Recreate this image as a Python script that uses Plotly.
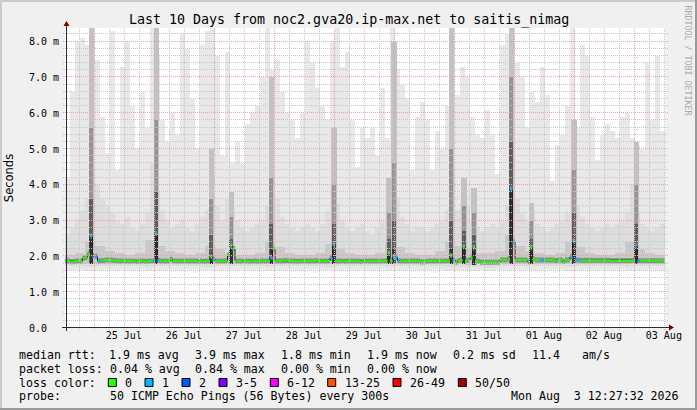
import plotly.graph_objects as go
from datetime import datetime, timedelta

# ---------------- data ----------------
T_START = datetime(2026, 7, 24, 12, 27, 32)
T_END = datetime(2026, 8, 3, 12, 27, 32)

# median rtt (ms), one value per hour, 240 hours
median_rtt = [
    1.87, 1.87, 1.85, 1.86, 1.87, 1.87, 1.87, 1.95, 1.97, 2.07, 2.57, 2.02, 2.00, 1.87, 1.88, 1.88, 1.90, 1.90, 1.90, 1.89, 1.88, 1.87, 1.87, 1.87,
    1.87, 1.87, 1.87, 1.87, 1.86, 1.87, 1.87, 1.87, 1.86, 1.87, 1.87, 1.87, 2.64, 1.89, 1.87, 1.87, 1.87, 1.87, 1.92, 1.87, 1.87, 1.87, 1.87, 1.87,
    1.87, 1.87, 1.87, 1.87, 1.87, 1.86, 1.87, 1.86, 1.87, 1.87, 2.00, 1.93, 1.87, 1.87, 1.87, 1.87, 1.88, 2.04, 2.30, 2.22, 1.87, 1.87, 1.87, 1.86,
    1.87, 1.87, 1.86, 1.87, 1.87, 1.86, 1.87, 1.87, 1.87, 1.87, 1.98, 2.20, 1.87, 1.87, 1.87, 1.88, 1.88, 1.88, 1.87, 1.87, 1.87, 1.86, 1.87, 1.87,
    1.87, 1.87, 1.87, 1.87, 1.88, 1.87, 1.87, 1.87, 1.87, 1.87, 1.96, 2.33, 1.87, 1.87, 1.87, 1.86, 1.87, 1.87, 1.87, 1.87, 1.87, 1.87, 1.86, 1.87,
    1.87, 1.87, 1.87, 1.87, 1.87, 1.87, 1.87, 1.87, 1.88, 2.09, 1.89, 2.00, 1.97, 1.88, 1.87, 1.87, 1.87, 1.87, 1.87, 1.87, 1.87, 1.87, 1.85, 1.85,
    1.86, 1.87, 1.87, 1.87, 1.87, 1.87, 1.87, 1.87, 1.87, 1.88, 2.02, 1.90, 1.84, 1.88, 1.90, 2.27, 1.88, 1.90, 1.98, 2.25, 1.87, 1.86, 1.84, 1.84,
    1.84, 1.84, 1.84, 1.84, 1.84, 1.84, 1.90, 1.90, 1.90, 1.93, 3.88, 2.41, 1.90, 1.90, 1.90, 1.90, 1.90, 1.85, 2.27, 1.93, 1.90, 1.90, 1.90, 1.90,
    1.90, 1.90, 1.90, 1.90, 1.88, 1.90, 1.90, 1.86, 1.90, 1.90, 1.99, 2.43, 1.90, 1.90, 1.89, 1.89, 1.89, 1.89, 1.89, 1.89, 1.89, 1.89, 1.89, 1.89,
    1.89, 1.89, 1.88, 1.88, 1.88, 1.88, 1.88, 1.88, 1.88, 1.88, 1.88, 1.90, 2.30, 1.88, 1.88, 1.88, 1.88, 1.88, 1.88, 1.88, 1.88, 1.88, 1.88, 1.88,
]
# hours (index into median_rtt) with 1 lost ping out of 50
loss_one_hours = [10, 11, 12, 13, 35, 36, 37, 59, 82, 106, 107, 131, 132, 133,
                  155, 178, 179, 190, 191, 202, 203, 204, 205, 228, 229]

# smoke: outer (max) envelope, one value per 2 hours (120)
smoke_max = [
    4.2, 6.6, 8.0, 8.1, 7.9, 8.4, 7.5, 5.9, 4.9, 8.3, 4.4, 7.3,
    8.0, 6.2, 5.0, 6.6, 5.6, 8.4, 7.6, 5.8, 5.2, 6.0, 5.4, 8.2,
    7.8, 6.4, 5.0, 7.9, 8.3, 8.4, 7.6, 4.8, 7.7, 4.6, 5.2, 4.6,
    5.7, 6.0, 6.2, 7.0, 8.4, 7.2, 7.5, 6.6, 6.0, 5.8, 5.3, 6.0,
    8.0, 7.4, 6.7, 6.2, 5.8, 8.0, 8.4, 7.3, 7.7, 5.8, 4.5, 5.6,
    5.3, 5.6, 4.8, 6.7, 5.3, 8.4, 7.2, 6.8, 6.4, 4.4, 5.9, 6.3,
    5.8, 4.4, 5.5, 5.0, 6.2, 8.4, 6.5, 7.3, 7.0, 5.9, 5.4, 5.3,
    6.1, 5.4, 4.3, 7.9, 8.2, 8.4, 7.4, 7.0, 5.6, 6.6, 6.3, 7.3,
    6.5, 4.1, 5.1, 5.4, 6.2, 8.4, 5.6, 7.9, 7.6, 5.9, 4.7, 5.4,
    5.7, 5.5, 5.3, 5.9, 6.0, 5.3, 5.1, 5.0, 7.4, 5.8, 7.6, 5.5,
]
# smoke: middle band top, one value per 2 hours (120)
smoke_mid = [
    2.6, 2.8, 3.0, 3.3, 3.6, 4.5, 4.0, 3.6, 3.4, 3.2, 3.0, 2.9,
    3.1, 2.8, 2.7, 2.9, 3.2, 4.6, 3.8, 3.3, 3.0, 2.8, 2.9, 3.0,
    2.8, 2.7, 2.9, 3.1, 3.3, 4.2, 3.4, 3.0, 3.6, 3.3, 3.0, 2.8,
    2.7, 2.8, 2.9, 3.0, 3.4, 4.4, 3.6, 3.1, 2.9, 2.8, 2.7, 2.8,
    2.9, 2.8, 2.7, 2.9, 3.2, 4.0, 3.5, 3.0, 2.8, 2.7, 2.8, 2.9,
    2.7, 2.6, 2.8, 3.0, 3.2, 4.2, 3.6, 3.1, 2.9, 2.7, 2.8, 2.8,
    2.7, 2.8, 2.9, 3.0, 3.3, 4.5, 3.3, 3.5, 3.4, 3.0, 2.8, 2.7,
    2.8, 2.9, 2.8, 3.0, 3.4, 4.8, 3.6, 3.2, 3.0, 3.3, 2.9, 2.8,
    2.7, 2.8, 2.9, 3.0, 3.2, 4.3, 3.4, 3.1, 2.9, 2.8, 2.7, 2.8,
    2.9, 2.8, 2.9, 3.0, 3.2, 4.0, 3.2, 2.9, 2.8, 2.7, 2.8, 2.9,
]
# smoke: inner band top, one value per 4 hours (60)
smoke_inner = [
    2.05, 2.10, 2.40, 2.30, 2.15, 2.10, 2.05, 2.10, 2.45, 2.30, 2.15, 2.10,
    2.05, 2.10, 2.30, 2.20, 2.10, 2.05, 2.05, 2.10, 2.40, 2.25, 2.10, 2.05,
    2.05, 2.10, 2.35, 2.20, 2.10, 2.05, 2.05, 2.10, 2.40, 2.25, 2.10, 2.05,
    2.05, 2.15, 2.40, 2.30, 2.20, 2.10, 2.10, 2.15, 2.60, 2.30, 2.15, 2.10,
    2.05, 2.10, 2.40, 2.25, 2.10, 2.05, 2.05, 2.10, 2.40, 2.20, 2.10, 2.05,
]
# smoke lower edges, one value per 4 hours (60)
smoke_min = [
    1.63, 1.62, 1.60, 1.62, 1.63, 1.62, 1.63, 1.62, 1.60, 1.62, 1.63, 1.63,
    1.62, 1.63, 1.61, 1.62, 1.63, 1.62, 1.63, 1.62, 1.60, 1.62, 1.63, 1.62,
    1.63, 1.62, 1.61, 1.62, 1.63, 1.62, 1.63, 1.62, 1.60, 1.62, 1.63, 1.62,
    1.63, 1.62, 1.60, 1.62, 1.60, 1.61, 1.58, 1.62, 1.62, 1.63, 1.62, 1.63,
    1.62, 1.62, 1.60, 1.62, 1.63, 1.62, 1.63, 1.62, 1.60, 1.62, 1.63, 1.62,
]
smoke_mid_low = [
    1.72, 1.72, 1.71, 1.72, 1.73, 1.72, 1.72, 1.72, 1.70, 1.72, 1.73, 1.72,
    1.72, 1.73, 1.71, 1.72, 1.72, 1.72, 1.73, 1.72, 1.70, 1.72, 1.73, 1.72,
    1.72, 1.72, 1.71, 1.72, 1.73, 1.72, 1.72, 1.72, 1.70, 1.72, 1.72, 1.72,
    1.72, 1.72, 1.70, 1.71, 1.70, 1.71, 1.69, 1.72, 1.72, 1.73, 1.72, 1.72,
    1.72, 1.72, 1.70, 1.72, 1.73, 1.72, 1.72, 1.72, 1.70, 1.72, 1.73, 1.72,
]
smoke_inner_low = [
    1.79, 1.79, 1.78, 1.79, 1.79, 1.79, 1.79, 1.79, 1.78, 1.79, 1.79, 1.79,
    1.79, 1.79, 1.78, 1.79, 1.79, 1.79, 1.79, 1.79, 1.78, 1.79, 1.79, 1.79,
    1.79, 1.79, 1.78, 1.79, 1.79, 1.79, 1.79, 1.79, 1.78, 1.79, 1.79, 1.79,
    1.79, 1.79, 1.78, 1.78, 1.77, 1.78, 1.77, 1.78, 1.79, 1.79, 1.79, 1.79,
    1.79, 1.79, 1.78, 1.79, 1.79, 1.79, 1.79, 1.79, 1.78, 1.79, 1.79, 1.79,
]
# dark smoke columns around the spikes (hour index, four darkness tiers)
spike_hours = [10, 36, 58, 66, 82, 107, 129, 131, 154, 159, 163, 178, 186, 203, 228]
spike_darkest = [2.6, 2.7, 2.1, 2.2, 2.2, 2.3, 2.1, 2.2, 2.2, 2.2, 2.15, 3.9, 2.15, 2.4, 2.3]
spike_dark = [3.6, 3.8, 2.6, 2.5, 2.9, 2.9, 2.5, 3.0, 3.0, 2.7, 2.6, 5.2, 2.5, 3.2, 2.9]
spike_medium = [5.6, 5.8, 3.6, 3.1, 4.2, 4.0, 3.2, 4.6, 5.0, 3.4, 3.2, 7.0, 3.0, 4.4, 4.0]
spike_light = [8.4, 8.4, 5.0, 3.8, 7.0, 5.6, 4.2, 8.0, 8.4, 4.2, 3.9, 8.4, 3.5, 5.8, 5.2]

y_ticks = [0, 1, 2, 3, 4, 5, 6, 7, 8]
y_tick_text = ["0.0\u00a0\u00a0", "1.0 m", "2.0 m", "3.0 m", "4.0 m", "5.0 m", "6.0 m", "7.0 m", "8.0 m"]
day_labels = ["25 Jul", "26 Jul", "27 Jul", "28 Jul", "29 Jul", "30 Jul", "31 Jul", "01 Aug", "02 Aug", "03 Aug"]

loss_labels = ["0", "1", "2", "3-5", "6-12", "13-25", "26-49", "50/50"]
loss_colors = ["#26ff00", "#00b8ff", "#0059ff", "#7e00ff", "#ff00ff", "#ff5500", "#ff0000", "#a10000"]

title_text = "Last 10 Days from noc2.gva20.ip-max.net to saitis_nimag"
rtt_items = ["1.9 ms avg", "3.9 ms max", "1.8 ms min", "1.9 ms now", "0.2 ms sd", "11.4", "am/s"]
loss_items = ["0.04 % avg", "0.84 % max", "0.00 % min", "0.00 % now"]
probe_text = "50 ICMP Echo Pings (56 Bytes) every 300s"
stamp_text = "Mon Aug  3 12:27:32 2026"

# ---------------- layout geometry ----------------
W, H = 697, 410
ML, MR, MT, MB = 65, 32, 28, 82
PW, PH = W - ML - MR, H - MT - MB
YMAX = 8.38
SPAN_H = (T_END - T_START).total_seconds() / 3600.0
MONO = "DejaVu Sans Mono"


def fx(px):
    return (px - ML) / PW


def fy(py):
    return (H - MB - py) / PH


def nb(s):
    return s.replace(" ", "\u00a0")


def bars(tops, bases, color):
    n = len(tops)
    wh = SPAN_H / n
    nbse = len(bases)
    xs, hs, bs = [], [], []
    for i, top in enumerate(tops):
        c = T_START + timedelta(hours=wh * (i + 0.5))
        b = bases[min(nbse - 1, int((i + 0.5) * wh / (SPAN_H / nbse)))]
        xs.append(c)
        hs.append(max(top - b, 0))
        bs.append(b)
    return go.Bar(x=xs, y=hs, base=bs, width=wh * 3600 * 1000 * 1.001,
                  marker=dict(color=color, line=dict(width=0)),
                  hoverinfo="skip", showlegend=False)


def spike_bars(tops, color, wid):
    xs, hs, bs = [], [], []
    for h, top in zip(spike_hours, tops):
        b = smoke_inner_low[int(h / 4)]
        xs.append(T_START + timedelta(hours=h + 0.5))
        hs.append(top - b)
        bs.append(b)
    return go.Bar(x=xs, y=hs, base=bs, width=wid * 3600 * 1000,
                  marker=dict(color=color, line=dict(width=0)),
                  hoverinfo="skip", showlegend=False)


def step_line(vals, keep, connect=True):
    xs, ys = [], []
    open_run = False
    for j, v in enumerate(vals):
        if keep(j):
            xs += [T_START + timedelta(hours=j), T_START + timedelta(hours=j + 1)]
            ys += [v, v]
            open_run = True
            if not connect:
                xs.append(None)
                ys.append(None)
        elif open_run:
            xs.append(None)
            ys.append(None)
            open_run = False
    return xs, ys


fig = go.Figure()
fig.add_trace(bars(smoke_max, smoke_min, "#e8e8e8"))
fig.add_trace(bars(smoke_mid, smoke_mid_low, "#dddddd"))
fig.add_trace(bars(smoke_inner, smoke_inner_low, "#c9c9c9"))
fig.add_trace(spike_bars(spike_light, "#c2c2c2", 2.2))
fig.add_trace(spike_bars(spike_medium, "#949494", 1.7))
fig.add_trace(spike_bars(spike_dark, "#5e5e5e", 1.5))
fig.add_trace(spike_bars(spike_darkest, "#333333", 1.3))

# grey halo hugging the median steps and thin dark risers
hx, hy = step_line(median_rtt, lambda j: True, connect=False)
fig.add_trace(go.Scatter(x=hx, y=hy, mode="lines", line=dict(color="#8a8a8a", width=5),
                         hoverinfo="skip", showlegend=False))
rx, ry = step_line(median_rtt, lambda j: True)
fig.add_trace(go.Scatter(x=rx, y=ry, mode="lines", line=dict(color="#202020", width=1),
                         hoverinfo="skip", showlegend=False))
loss_set = set(loss_one_hours)
gx, gy = step_line(median_rtt, lambda j: j not in loss_set, connect=False)
fig.add_trace(go.Scatter(x=gx, y=gy, mode="lines", line=dict(color=loss_colors[0], width=2),
                         hoverinfo="skip", showlegend=False))
bx, by = step_line(median_rtt, lambda j: j in loss_set, connect=False)
fig.add_trace(go.Scatter(x=bx, y=by, mode="lines", line=dict(color=loss_colors[1], width=2),
                         hoverinfo="skip", showlegend=False))

# ---------------- grid (drawn above the smoke, like rrdtool) ----------------
shapes = []
GRID = "#c6c6c6"
MGRID = "#eba2a2"
for k in range(1, int(YMAX / 0.2) + 1):
    v = round(k * 0.2, 2)
    yb = (H - MB) - v / YMAX * PH
    py = round(yb) - 0.5
    major = (k % 5 == 0)
    shapes.append(dict(type="line", xref="paper", yref="paper",
                       x0=fx(ML - 2), x1=fx(ML + PW + 3), y0=fy(py), y1=fy(py),
                       line=dict(color=MGRID if major else GRID, width=1, dash="1px,1px"),
                       layer="above"))
t = datetime(2026, 7, 24, 18, 0, 0)
while t < T_END:
    xb = ML + (t - T_START).total_seconds() / 3600.0 / SPAN_H * PW
    px = round(xb) + 0.5
    major = (t.hour == 0)
    shapes.append(dict(type="line", xref="paper", yref="paper",
                       x0=fx(px), x1=fx(px), y0=fy(H - MB + 2), y1=1.0,
                       line=dict(color=MGRID if major else GRID, width=1, dash="1px,1px"),
                       layer="above"))
    t += timedelta(hours=6)

# axes lines with arrows
AX = "#2c2c2c"
ARROW = "#7f0000"
shapes.append(dict(type="line", xref="paper", yref="paper", x0=fx(ML - 3), x1=fx(ML + PW + 5),
                   y0=fy(H - MB - 0.5), y1=fy(H - MB - 0.5), line=dict(color=AX, width=1), layer="above"))
shapes.append(dict(type="line", xref="paper", yref="paper", x0=fx(ML + 1.5), x1=fx(ML + 1.5),
                   y0=fy(H - MB + 3), y1=fy(MT - 3), line=dict(color=AX, width=1), layer="above"))
xa0, ya0 = ML + PW + 4, H - MB - 0.5
shapes.append(dict(type="path", xref="paper", yref="paper",
                   path="M {} {} L {} {} L {} {} Z".format(fx(xa0), fy(ya0 - 3), fx(xa0 + 5), fy(ya0), fx(xa0), fy(ya0 + 3)),
                   fillcolor=ARROW, line=dict(width=0), layer="above"))
xb0, yb0 = ML + 1.5, MT - 2
shapes.append(dict(type="path", xref="paper", yref="paper",
                   path="M {} {} L {} {} L {} {} Z".format(fx(xb0 - 3), fy(yb0), fx(xb0), fy(yb0 - 5), fx(xb0 + 3), fy(yb0)),
                   fillcolor=ARROW, line=dict(width=0), layer="above"))

# image frame (3D shade)
shapes.append(dict(type="rect", xref="paper", yref="paper", x0=fx(0), x1=fx(W), y0=fy(0), y1=fy(2),
                   fillcolor="#cbcbcb", line=dict(width=0)))
shapes.append(dict(type="rect", xref="paper", yref="paper", x0=fx(0), x1=fx(2), y0=fy(0), y1=fy(H),
                   fillcolor="#cbcbcb", line=dict(width=0)))
shapes.append(dict(type="rect", xref="paper", yref="paper", x0=fx(0), x1=fx(W), y0=fy(H - 2), y1=fy(H),
                   fillcolor="#999999", line=dict(width=0)))
shapes.append(dict(type="rect", xref="paper", yref="paper", x0=fx(W - 2), x1=fx(W), y0=fy(0), y1=fy(H),
                   fillcolor="#999999", line=dict(width=0)))

# ---------------- texts ----------------
ann = []


def text(px, py, s, size=11.6, anchor="left", color="#000000", angle=0, family=MONO):
    ann.append(dict(x=fx(px), y=fy(py), xref="paper", yref="paper", text=nb(s), showarrow=False,
                    xanchor=anchor, yanchor="middle", textangle=angle,
                    font=dict(family=family, size=size, color=color)))


text(348.5, 19.5, title_text, size=13.3, anchor="center")
text(687.5, 60, "RRDTOOL / TOBI OETIKER", size=8.3, anchor="center", color="#a8a8a8", angle=90)

ROW = [355, 368.7, 382.5, 396.3]
text(16.9, ROW[0], "median rtt:")
for s, px in zip(rtt_items, [106.7, 193.3, 279.0, 365.3, 451.0, 529.8, 580.0]):
    text(px, ROW[0], s)
text(16.9, ROW[1], "packet loss:")
for s, px in zip(loss_items, [108.0, 193.3, 279.0, 365.3]):
    text(px, ROW[1], s)
text(16.9, ROW[2], "loss color:")
label_x = [123.3, 160.0, 197.0, 234.0, 285.3, 342.7, 408.0, 473.3]
for lab, col, lx in zip(loss_labels, loss_colors, label_x):
    sx = lx - 15
    shapes.append(dict(type="rect", xref="paper", yref="paper", x0=fx(sx), x1=fx(sx + 8),
                       y0=fy(386.5), y1=fy(378.5), fillcolor=col, line=dict(color="#000000", width=1)))
    text(lx, ROW[2], lab)
text(16.9, ROW[3], "probe:")
text(108.0, ROW[3], probe_text)
text(681.0, ROW[3], stamp_text, anchor="right")

noon_ticks = [datetime(2026, 7, 25, 12) + timedelta(days=d) for d in range(len(day_labels))]

fig.update_layout(
    width=W, height=H,
    margin=dict(l=ML, r=MR, t=MT, b=MB, pad=0, autoexpand=False),
    paper_bgcolor="#f0f0f0", plot_bgcolor="#ffffff",
    barmode="overlay", bargap=0,
    showlegend=False,
    shapes=shapes, annotations=ann,
    xaxis=dict(type="date", range=[T_START, T_END], showgrid=False, zeroline=False, showline=False,
               tickmode="array", tickvals=noon_ticks, ticktext=day_labels, ticks="",
               tickfont=dict(family=MONO, size=10, color="#000000"), fixedrange=True),
    yaxis=dict(range=[0, YMAX], showgrid=False, zeroline=False, showline=False,
               tickmode="array", tickvals=y_ticks, ticktext=y_tick_text, ticks="",
               ticklabelstandoff=5,
               tickfont=dict(family=MONO, size=10, color="#000000"),
               title=dict(text="Seconds", standoff=12,
                          font=dict(family="DejaVu Sans", size=11.5, color="#000000")),
               fixedrange=True),
)

fig.write_html("out.html", config={"displayModeBar": False},
               post_script="document.body.style.margin='0px';document.body.style.overflow='hidden';")
